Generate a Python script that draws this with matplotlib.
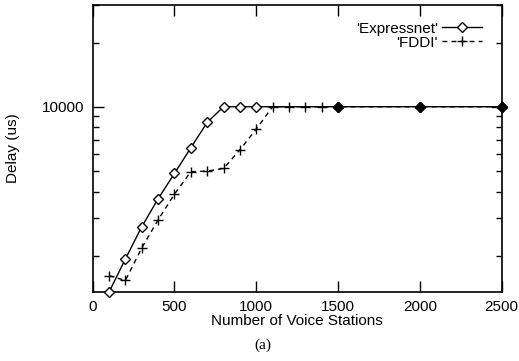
"""
Voice station delay: Expressnet vs FDDI (log delay axis)
"""

import matplotlib
matplotlib.use("Agg")
import matplotlib.pyplot as plt
from matplotlib.ticker import LogLocator, FixedLocator, FuncFormatter, NullFormatter

# data
stations_exp = [100, 200, 300, 400, 500, 600, 700, 800, 900, 1000, 1500, 2000, 2500]
delay_exp = [1350, 1930, 2735, 3700, 4865, 6420, 8440, 10000, 10000, 10000, 10000, 10000, 10000]

stations_fddi = [100, 200, 300, 400, 500, 600, 700, 800, 900, 1000,
                 1100, 1200, 1300, 1400, 1500, 2000, 2500]
delay_fddi = [1610, 1530, 2175, 2945, 3890, 4955, 4990, 5130, 6280, 7860,
              10000, 10000, 10000, 10000, 10000, 10000, 10000]

labels = ["'Expressnet'", "'FDDI'"]
x_ticks = [0, 500, 1000, 1500, 2000, 2500]

plt.rcParams["font.family"] = ["Liberation Sans", "DejaVu Sans"]
plt.rcParams["font.size"] = 11

fig = plt.figure(figsize=(5.19, 3.61), dpi=100)
ax = fig.add_axes([0.1786, 0.191, 0.788, 0.795])

ax.plot(stations_exp, delay_exp, color="black", lw=1.0, marker="D", ms=5.0,
        mfc="white", mec="black", mew=1.0, label=labels[0], clip_on=False, zorder=3)
ax.plot(stations_fddi, delay_fddi, color="black", lw=1.0, ls=(0, (3.5, 3)), marker="+",
        ms=7, mew=1.0, label=labels[1], clip_on=False, zorder=3)

# where both runs hit the same point the marks merge into a solid blob
common = sorted(set(zip(stations_exp, delay_exp)) & set(zip(stations_fddi, delay_fddi)))
ax.plot([c[0] for c in common], [c[1] for c in common], ls="none", marker="D",
        ms=5.5, mfc="black", mec="black", clip_on=False, zorder=4)

ax.set_yscale("log")
ax.set_xlim(0, 2500)
ax.set_ylim(1350, 30000)

ax.xaxis.set_major_locator(FixedLocator(x_ticks))
ax.yaxis.set_major_locator(LogLocator(base=10))
ax.yaxis.set_minor_locator(LogLocator(base=10, subs=range(2, 10)))
ax.yaxis.set_major_formatter(FuncFormatter(lambda v, p: f"{v:.0f}"))
ax.yaxis.set_minor_formatter(NullFormatter())

ax.tick_params(which="both", direction="in", top=True, right=True, width=1.0)
ax.tick_params(which="major", length=8, pad=6)
ax.tick_params(which="minor", length=4)
for s in ax.spines.values():
    s.set_linewidth(1.2)

ax.set_xlabel("Number of Voice Stations", labelpad=0)
ax.set_ylabel("Delay (us)", labelpad=16)

ax.legend(loc="upper right", bbox_to_anchor=(0.952, 0.942), frameon=False,
          markerfirst=False, handlelength=2.6, handletextpad=0.3,
          labelspacing=0.0, borderpad=0, borderaxespad=0)

fig.text(0.507, 0.033, "(a)", family="Liberation Serif", fontsize=11, ha="center")

fig.savefig("out.png", dpi=100)
